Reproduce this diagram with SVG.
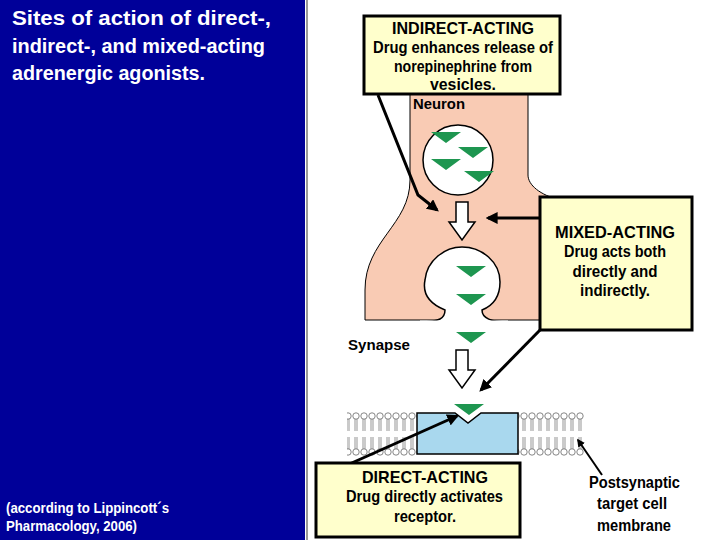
<svg xmlns="http://www.w3.org/2000/svg" width="720" height="540" viewBox="0 0 720 540">
<style>
.t{font-family:"Liberation Sans",Arial,sans-serif;font-weight:bold}
.box{fill:#FFFFCC;stroke:#000;stroke-width:3}
.tri{fill:#1E9650}
.ho{fill:#fff;stroke:#000;stroke-width:1.5}
.ln{stroke:#000;stroke-width:3;fill:none}
</style>
<defs>
<marker id="ah" viewBox="0 0 10 10" refX="8" refY="5" markerWidth="4" markerHeight="4" orient="auto"><path d="M0,0L10,5L0,10z" fill="#000"/></marker>
<pattern id="lipT" x="0" y="412" width="8" height="22" patternUnits="userSpaceOnUse"><circle cx="4" cy="4" r="3.2" fill="#fff" stroke="#666" stroke-width="0.8"/><path d="M3,7V19M5,7V19" stroke="#666" stroke-width="0.7"/></pattern>
<pattern id="lipB" x="0" y="434" width="8" height="22" patternUnits="userSpaceOnUse"><circle cx="4" cy="18" r="3.2" fill="#fff" stroke="#666" stroke-width="0.8"/><path d="M3,3V15M5,3V15" stroke="#666" stroke-width="0.7"/></pattern>
</defs>
<rect width="720" height="540" fill="#fff"/>
<rect width="305" height="540" fill="#000099"/>
<line x1="307" y1="0" x2="307" y2="540" stroke="#999" stroke-width="2"/>
<text class="t" fill="#fff" font-size="20"><tspan x="12" y="25" textLength="259" lengthAdjust="spacingAndGlyphs">Sites of action of direct-,</tspan><tspan x="12" y="53" textLength="253" lengthAdjust="spacingAndGlyphs">indirect-, and mixed-acting</tspan><tspan x="12" y="80" textLength="193" lengthAdjust="spacingAndGlyphs">adrenergic agonists.</tspan></text>
<text class="t" fill="#fff" font-size="14"><tspan x="6" y="513" textLength="163" lengthAdjust="spacingAndGlyphs">(according to Lippincott´s</tspan><tspan x="6" y="531" textLength="131" lengthAdjust="spacingAndGlyphs">Pharmacology, 2006)</tspan></text>

<g id="neuron">
<path d="M410,90 V180 C410,225 365,240 365,290 V320 H560 V200 C540,195 528,185 528,175 V90 Z" fill="#F9CBB4" stroke="#000" stroke-width="1"/>
<path d="M420,322 C440,322 445,318 445,310 C425,302 423,290 425,280 C427,260 445,247 462,247 C482,247 500,262 500,282 C500,298 492,306 482,310 C482,318 490,322 508,322 Z" fill="#fff" stroke="#000" stroke-width="1.5"/>
<line x1="420" y1="322" x2="508" y2="322" stroke="#fff" stroke-width="3"/>
<circle cx="458" cy="160" r="35" fill="#fff" stroke="#000" stroke-width="1.5"/>
<path class="tri" d="M431,132h30l-15,11z M458,147h30l-15,11z M431,159h30l-15,11z M464,171h30l-15,11z"/>
<path class="tri" d="M456,266h30l-15,11z M456,294h30l-15,11z M456,332h30l-15,11z M454,404h30l-15,11z"/>
<path class="ho" d="M456,202h12v20h7l-13,18l-13,-18h7z"/>
<path class="ho" d="M456,350h12v20h7l-13,18l-13,-18h7z"/>
<text class="t" font-size="14" x="413" y="109" textLength="52" lengthAdjust="spacingAndGlyphs">Neuron</text>
<text class="t" font-size="14" x="348" y="350" textLength="62" lengthAdjust="spacingAndGlyphs">Synapse</text>
</g>

<g id="membrane">
<rect x="347" y="412" width="70" height="22" fill="url(#lipT)"/>
<rect x="347" y="434" width="70" height="22" fill="url(#lipB)"/>
<rect x="518" y="412" width="66" height="22" fill="url(#lipT)"/>
<rect x="518" y="434" width="66" height="22" fill="url(#lipB)"/>
<path d="M417,413 H455 L468,423 L481,413 H518 V454 H417 Z" fill="#A9D8EE" stroke="#000" stroke-width="1.5"/>
</g>

<g id="connectors">
<path class="ln" d="M378,95 L418,195 L437,210" marker-end="url(#ah)"/>
<line class="ln" x1="540" y1="218" x2="488" y2="218" marker-end="url(#ah)"/>
<line class="ln" x1="542" y1="328" x2="481" y2="390" marker-end="url(#ah)"/>
<line class="ln" x1="345" y1="466" x2="457" y2="416" marker-end="url(#ah)"/>
<line x1="602" y1="475" x2="578" y2="440" stroke="#000" stroke-width="2" marker-end="url(#ah)"/>
</g>

<g id="indirect">
<rect class="box" x="364" y="16" width="196" height="78"/>
<text class="t" font-size="17" text-anchor="middle"><tspan x="463" y="34" textLength="142" lengthAdjust="spacingAndGlyphs">INDIRECT-ACTING</tspan><tspan x="463" y="53" font-size="16" textLength="180" lengthAdjust="spacingAndGlyphs">Drug enhances release of</tspan><tspan x="463" y="72" font-size="16" textLength="138" lengthAdjust="spacingAndGlyphs">norepinephrine from</tspan><tspan x="463" y="90" font-size="16" textLength="66" lengthAdjust="spacingAndGlyphs">vesicles.</tspan></text>
</g>
<g id="mixed">
<rect class="box" x="540" y="197" width="152" height="133"/>
<text class="t" font-size="17" text-anchor="middle"><tspan x="615" y="238" textLength="120" lengthAdjust="spacingAndGlyphs">MIXED-ACTING</tspan><tspan x="615" y="257" font-size="16" textLength="102" lengthAdjust="spacingAndGlyphs">Drug acts both</tspan><tspan x="615" y="277" font-size="16" textLength="85" lengthAdjust="spacingAndGlyphs">directly and</tspan><tspan x="615" y="296" font-size="16" textLength="70" lengthAdjust="spacingAndGlyphs">indirectly.</tspan></text>
</g>
<g id="direct">
<rect class="box" x="316" y="463" width="204" height="74"/>
<text class="t" font-size="17"><tspan x="362" y="483" textLength="126" lengthAdjust="spacingAndGlyphs">DIRECT-ACTING</tspan><tspan x="346" y="502" font-size="16" textLength="157" lengthAdjust="spacingAndGlyphs">Drug directly activates</tspan><tspan x="394" y="522" font-size="16" textLength="62" lengthAdjust="spacingAndGlyphs">receptor.</tspan></text>
</g>
<text class="t" font-size="16"><tspan x="589" y="488" textLength="91" lengthAdjust="spacingAndGlyphs">Postsynaptic</tspan><tspan x="597" y="509" textLength="70" lengthAdjust="spacingAndGlyphs">target cell</tspan><tspan x="597" y="531" textLength="74" lengthAdjust="spacingAndGlyphs">membrane</tspan></text>
</svg>
